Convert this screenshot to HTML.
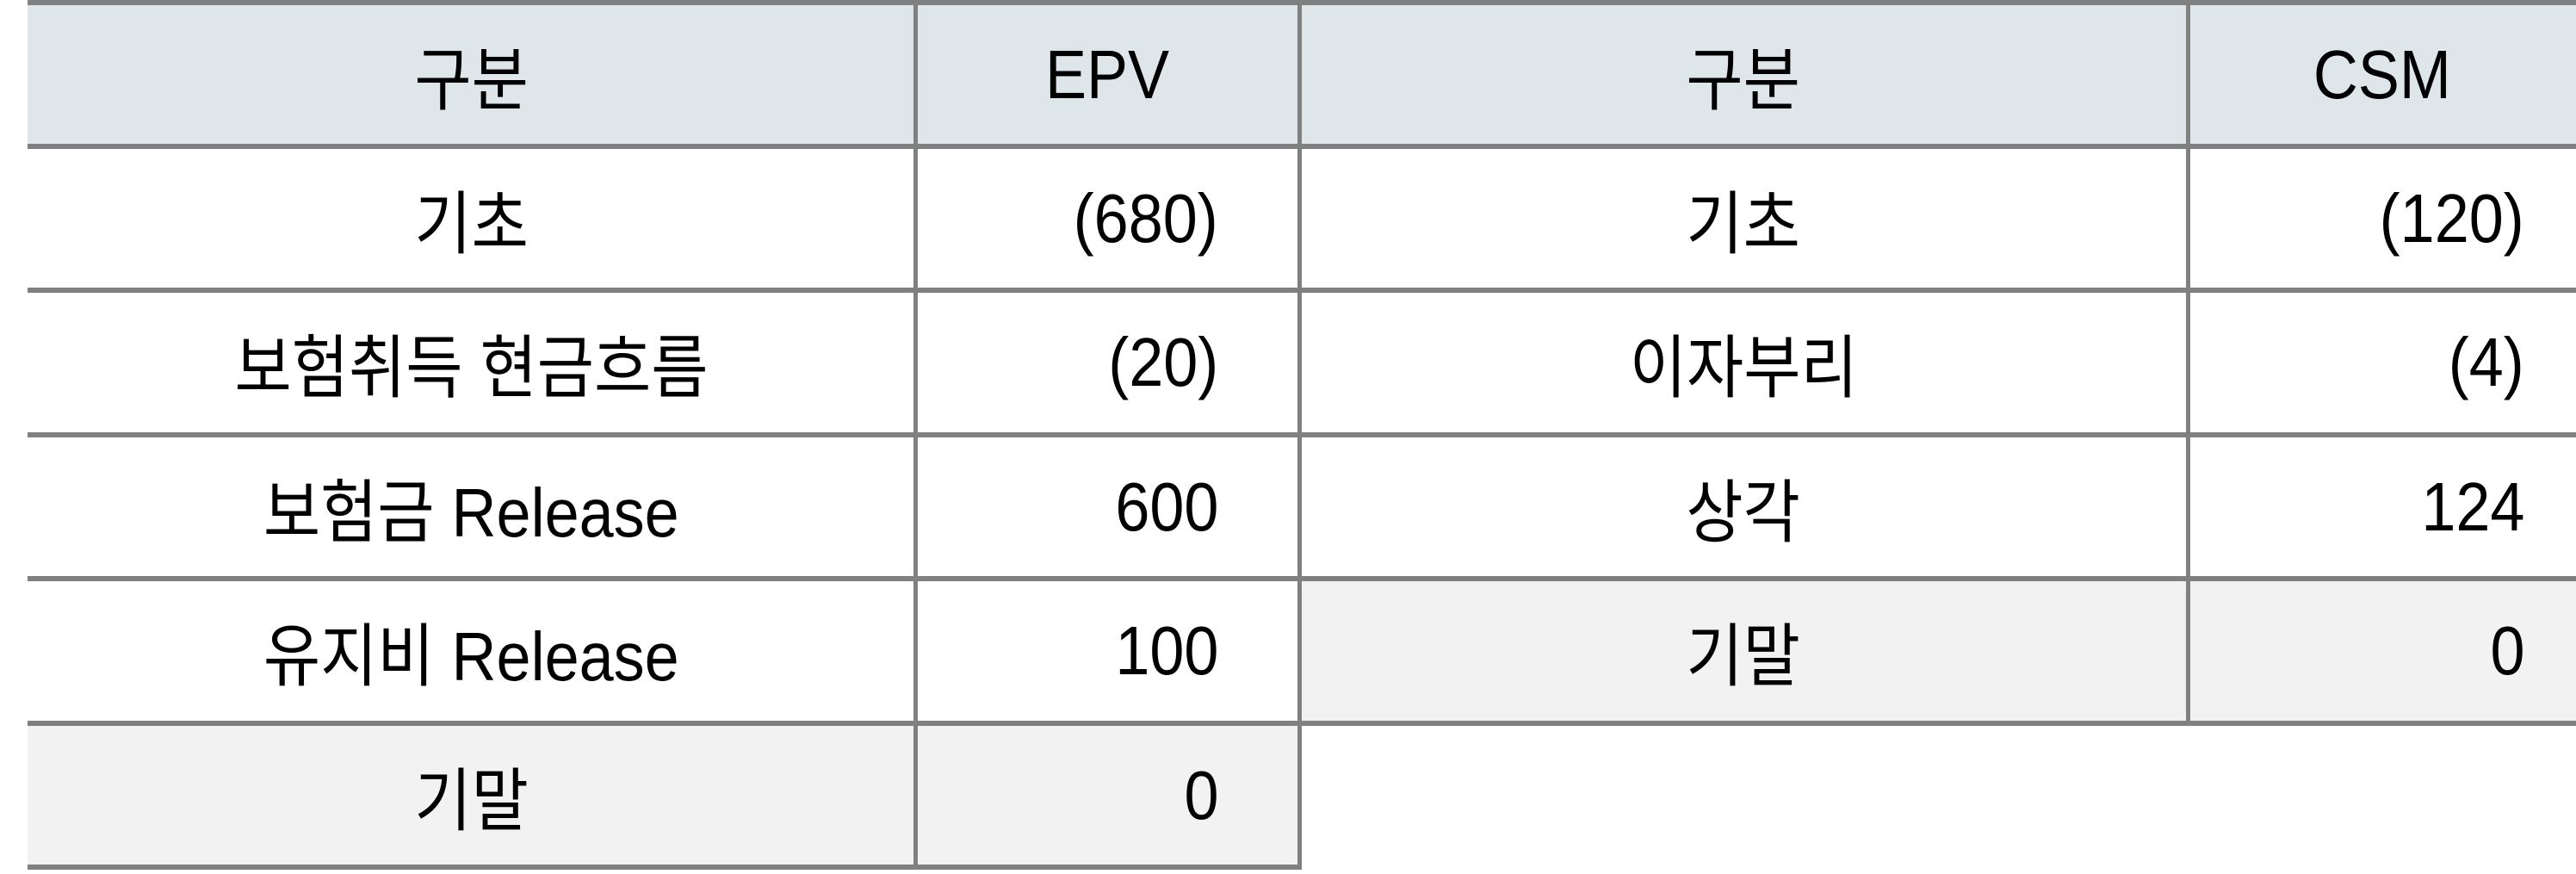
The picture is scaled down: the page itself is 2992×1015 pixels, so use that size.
<!DOCTYPE html>
<html><head><meta charset="utf-8"><style>
html,body{margin:0;padding:0;background:#fff;}
body{width:2992px;height:1015px;position:relative;overflow:hidden;font-family:"Liberation Sans","Noto Sans CJK KR",sans-serif;color:#000;}
.cell{position:absolute;display:flex;align-items:center;justify-content:center;font-size:80px;font-weight:400;}
.cell span{display:inline-block;transform:scaleX(0.9);white-space:pre;}
.r{justify-content:flex-end;}
.r span{transform-origin:right center;}
.hl{position:absolute;height:6px;background:#808080;}
.vl{position:absolute;width:5px;background:#808080;}
</style></head><body>
<div id="t"></div>
<script>
const leftLabels=['구분','기초','보험취득 현금흐름','보험금 Release','유지비 Release','기말'];
const leftValues=['EPV','(680)','(20)','600','100','0'];
const rightLabels=['구분','기초','이자부리','상각','기말'];
const rightValues=['CSM','(120)','(4)','124','0'];
const rowTops=[0,167,334,502,669,837,1004];
const root=document.getElementById('t');
function add(cls,x,y,w,h,bg,txt,pr,name){
  const d=document.createElement('div');
  d.className=cls;
  
  
  d.style.left=x+'px';d.style.top=y+'px';d.style.width=w+'px';d.style.height=h+'px';
  if(bg)d.style.background=bg;
  if(pr!=null){d.style.paddingRight=pr+'px';d.style.boxSizing='border-box';}
  if(txt!=null){const s=document.createElement('span');s.textContent=txt;d.appendChild(s);}
  root.appendChild(d);return d;
}
function table(labels,values,x0,xm,x1,prVal,prefix){
  const n=labels.length;
  for(let i=0;i<n;i++){
    const y=rowTops[i]+6,h=rowTops[i+1]-rowTops[i]-6;
    const bg=i===0?'#dee6ea':(i===n-1?'#f2f2f2':'#fff');
    add('cell',x0,y,xm-x0,h,bg,labels[i],null,prefix+'-label-'+i);
    add('cell'+(i>0?' r':''),xm,y,x1-xm,h,bg,values[i],i>0?prVal:null,prefix+'-value-'+i);
  }
  for(let i=0;i<=n;i++) add('hl',x0,rowTops[i],x1-x0,null,null,null,null,prefix+'-row-line-'+i);
  add('vl',xm-2,0,null,rowTops[n]+6,null,null,null,prefix+'-col-line');
}
table(leftLabels,leftValues,32,1063,1509,94,'epv');
table(rightLabels,rightValues,1509,2541,2992,60,'csm');
add('vl',1507,0,null,rowTops[6]+6,null,null,null,'table-divider');
</script>
</body></html>
